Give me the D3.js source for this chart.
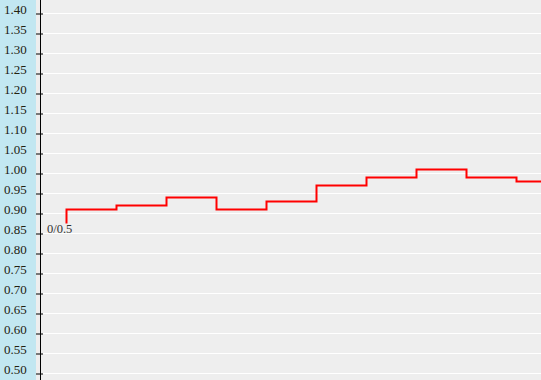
<!DOCTYPE html>
<html><head><meta charset="utf-8">
<script src="https://cdn.jsdelivr.net/npm/d3@7"></script>
<style>html,body{margin:0;padding:0;background:#eeeeee;overflow:hidden}</style>
</head><body>
<svg id="c" width="541" height="380"></svg>
<script>
const steps = [0,1,2,3,4,5,6,7,8,9,10];
const values = [0.875,0.91,0.92,0.94,0.91,0.93,0.97,0.99,1.01,0.99,0.98];
const yTicks = [0.50,0.55,0.60,0.65,0.70,0.75,0.80,0.85,0.90,0.95,1.00,1.05,1.10,1.15,1.20,1.25,1.30,1.35,1.40];
const pointLabel = "0/0.5";

const W = 541, H = 380;
const svg = d3.select("#c");
const y = d3.scaleLinear().domain([0.50, 1.40]).range([373, 13]);
const x = d3.scaleLinear().domain([0, 10]).range([66, 566]);

svg.append("rect").attr("x",0).attr("y",0).attr("width",W).attr("height",H).attr("fill","#eeeeee");
svg.append("rect").attr("x",0).attr("y",0).attr("width",36).attr("height",H).attr("fill","#c2e7f1");

// gridlines
svg.append("g").selectAll("line").data(yTicks).join("line")
  .attr("x1",43).attr("x2",W)
  .attr("y1",d=>Math.round(y(d))+0.5).attr("y2",d=>Math.round(y(d))+0.5)
  .attr("stroke","#ffffff").attr("stroke-width",1);

// axis
const axis = d3.axisLeft(y).tickValues(yTicks).tickFormat(d3.format(".2f")).tickSize(0).tickPadding(0);
const ag = svg.append("g").attr("transform","translate(40.5,0)").call(axis);
ag.select(".domain").remove();
ag.selectAll(".tick text").remove();
ag.append("line").attr("x1",0).attr("x2",0).attr("y1",0).attr("y2",H).attr("stroke","#000").attr("stroke-width",1);
ag.selectAll(".tick").append("line").attr("x1",-4.5).attr("x2",2.5).attr("y1",0.5).attr("y2",0.5).attr("stroke","#000");

svg.append("g").selectAll("text").data(yTicks).join("text")
  .attr("x",4).attr("y",d=>Math.round(y(d))+1)
  .attr("text-anchor","start")
  .attr("font-family","Liberation Serif, Times New Roman, serif").attr("font-size","13px")
  .attr("fill","#222210")
  .text(d=>d3.format(".2f")(d));

// step line
const line = d3.line().x((d,i)=>x(steps[i])+0.5).y(d=>Math.round(y(d))+0.5).curve(d3.curveStepBefore);
svg.append("path").datum(values).attr("d",line).attr("fill","none").attr("stroke","#ff0000").attr("stroke-width",2);

svg.append("text").attr("x",x(steps[0])-19).attr("y",Math.round(y(0.85))-0)
  .attr("font-family","Liberation Serif, Times New Roman, serif").attr("font-size","12.5px").attr("fill","#333")
  .text(pointLabel);
</script>
</body></html>
